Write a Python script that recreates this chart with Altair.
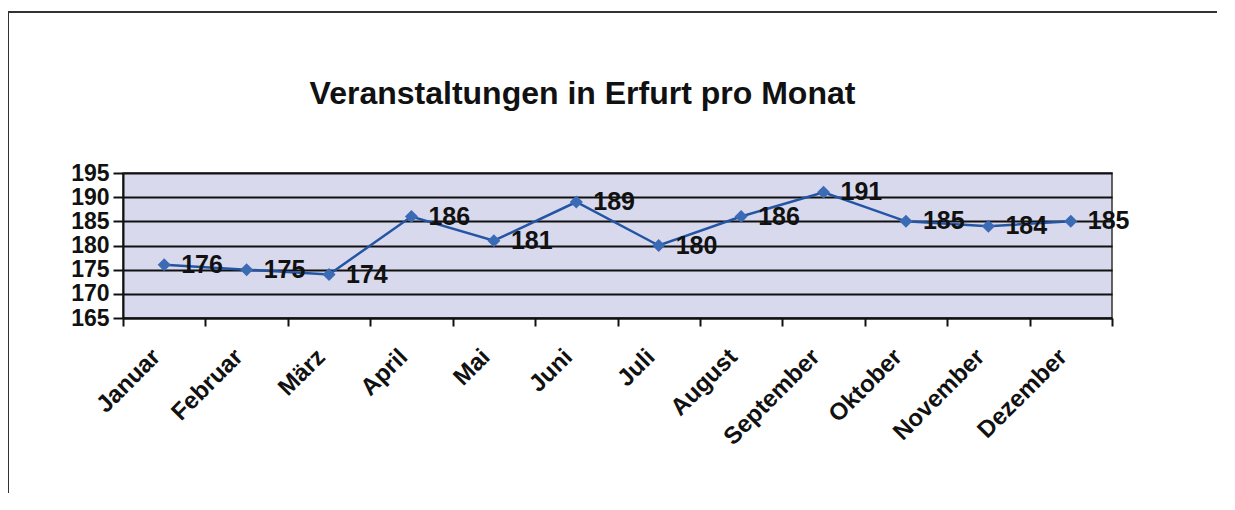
import altair as alt
import pandas as pd

months = ["Januar", "Februar", "März", "April", "Mai", "Juni", "Juli",
          "August", "September", "Oktober", "November", "Dezember"]
events = [176, 175, 174, 186, 181, 189, 180, 186, 191, 185, 184, 185]
y_ticks = [165, 170, 175, 180, 185, 190, 195]

df = pd.DataFrame({"Monat": months, "Anzahl": events})

FONT = "Liberation Sans"

x_enc = alt.X("Monat:N", sort=months, title=None,
              scale=alt.Scale(paddingInner=0, paddingOuter=0),
              axis=alt.Axis(labelAngle=-45, labelAlign="right", labelBaseline="middle",
                            labelFont=FONT, labelFontSize=24, labelFontWeight="bold",
                            labelColor="#111111", labelPadding=27, labelOffset=-8,
                            tickBand="extent", tickSize=8, tickColor="#111111", tickWidth=2,
                            domainColor="#111111", domainWidth=2, grid=False))
y_enc = alt.Y("Anzahl:Q", title=None,
              scale=alt.Scale(domain=[165, 195], nice=False, zero=False),
              axis=alt.Axis(values=y_ticks, labelFont=FONT, labelFontSize=23,
                            labelFontWeight="bold", labelColor="#111111", labelPadding=4,
                            tickSize=10, tickColor="#111111", tickWidth=2,
                            domainColor="#111111", domainWidth=2,
                            grid=True, gridColor="#111111", gridWidth=2))

line = alt.Chart(df).mark_line(color="#2455a5", strokeWidth=2.5).encode(x=x_enc, y=y_enc)
points = alt.Chart(df).mark_point(shape="diamond", filled=True, size=170, opacity=1,
                                  color="#3c6bb5").encode(x=x_enc, y=y_enc)
labels = alt.Chart(df).mark_text(align="left", baseline="middle", dx=17, font=FONT,
                                 fontSize=25, fontWeight="bold", color="#111111").encode(
    x=x_enc, y=y_enc, text="Anzahl:Q")

frame_left = alt.Chart(df).mark_rule(color="#333333", strokeWidth=2).encode(
    x=alt.value(-115), y=alt.value(-161), y2=alt.value(400))
frame_top = alt.Chart(df).mark_rule(color="#333333", strokeWidth=2).encode(
    x=alt.value(-115), x2=alt.value(1120), y=alt.value(-161))

chart = alt.layer(line, points, labels, frame_left, frame_top).properties(
    width=989, height=145,
    title=alt.TitleParams("Veranstaltungen in Erfurt pro Monat", font=FONT, fontSize=32,
                          fontWeight="bold", color="#111111", anchor="middle",
                          dx=-35, offset=0, dy=132, baseline="bottom"),
    autosize=alt.AutoSizeParams(type="none"),
    padding={"left": 115, "top": 165, "right": 105, "bottom": 175},
).configure_view(fill="#d8d9ec", stroke="#333333", strokeWidth=1.5)

chart.save("out.html", embed_options={"renderer": "svg", "actions": False})
